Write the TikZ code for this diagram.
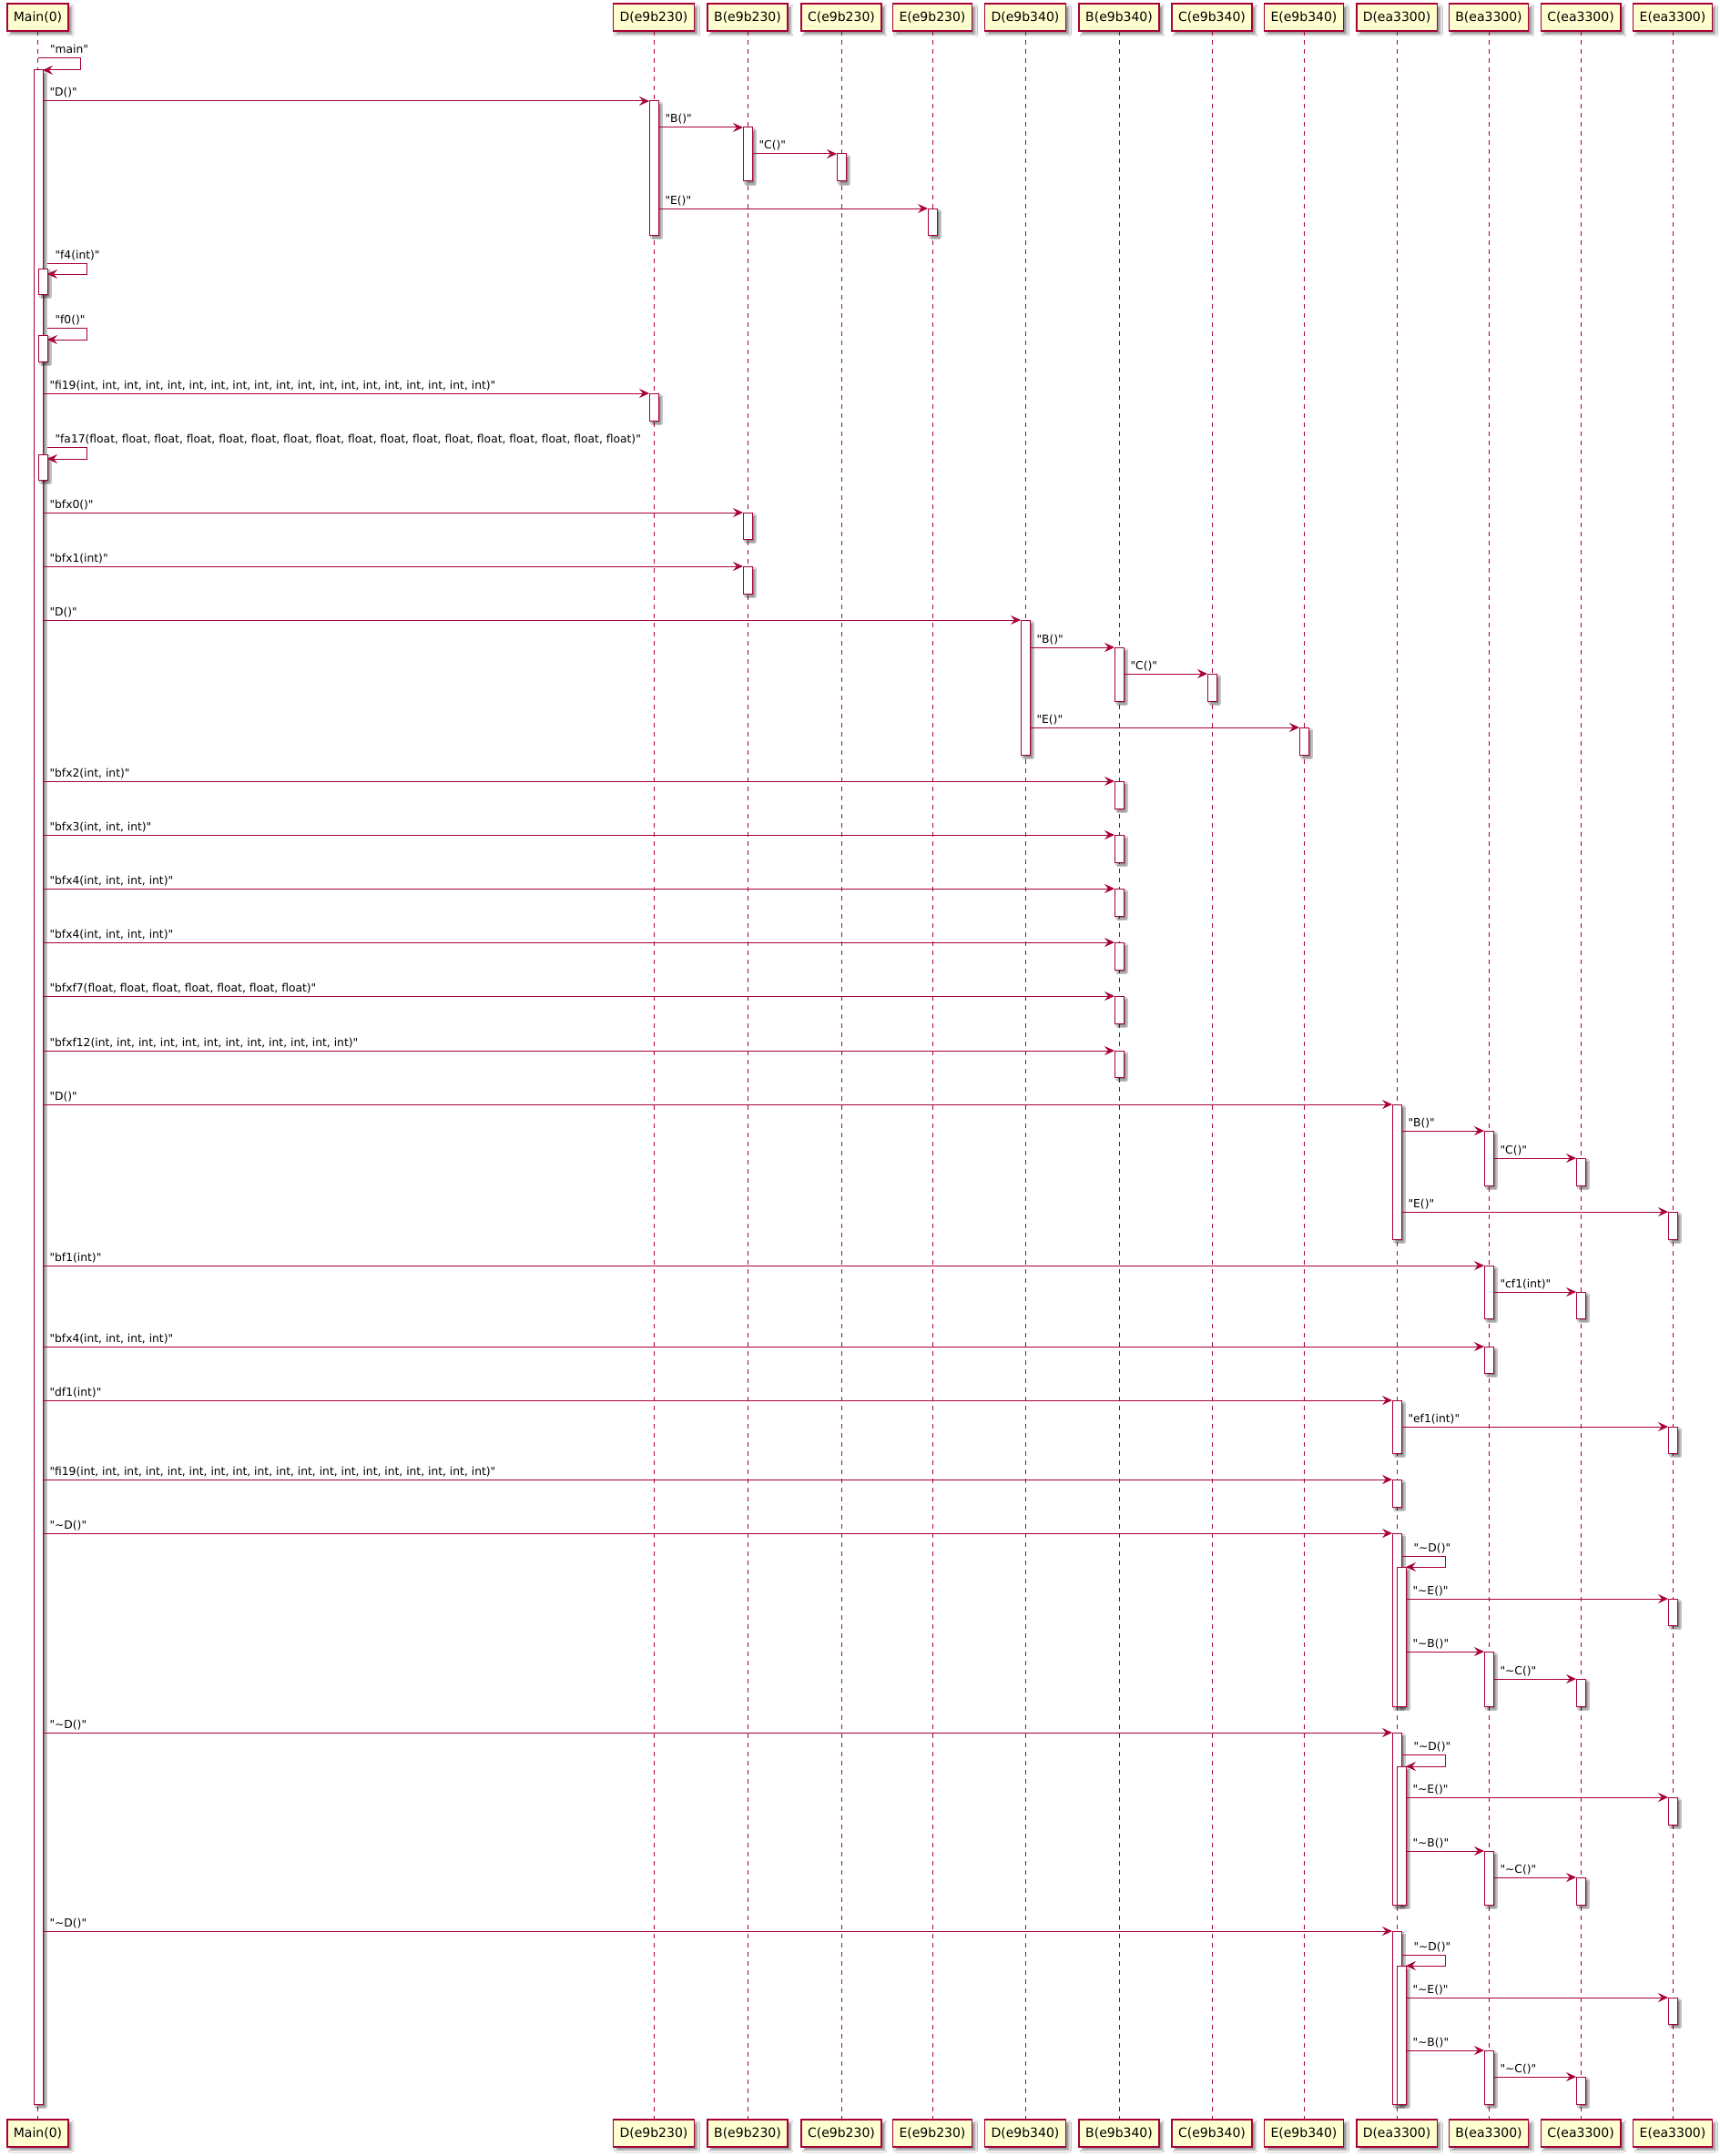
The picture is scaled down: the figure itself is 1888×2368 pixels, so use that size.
\documentclass[tikz,border=0pt]{standalone}
\usepackage{fontspec}
\setmainfont{DejaVu Sans}[Ligatures=TeXOff]
\usetikzlibrary{arrows.meta,shadows.blur}
\definecolor{umlred}{HTML}{A80036}
\definecolor{umlfill}{HTML}{FEFECE}
\newcommand\swung{\textasciitilde}
\tikzset{
  partbox/.style={draw=umlred, line width=1.5pt, fill=umlfill, minimum height=30pt,
    inner xsep=7pt, inner ysep=0pt, outer sep=0pt, font=\fontsize{14}{16}\selectfont,
    blur shadow={shadow xshift=3.5pt, shadow yshift=-3.5pt, shadow blur radius=2.5pt,
      shadow blur steps=6, shadow opacity=45}},
  lifeline/.style={draw=umlred, line width=1pt, dash pattern=on 5pt off 5pt},
  actbar/.style={draw=umlred, line width=1pt, fill=white, minimum width=10pt,
    inner sep=0pt, outer sep=0pt,
    blur shadow={shadow xshift=3pt, shadow yshift=-3pt, shadow blur radius=1.5pt,
      shadow blur steps=4, shadow opacity=50}},
  msg/.style={draw=umlred, line width=1pt, -{Stealth[length=11pt,width=10pt,inset=4pt]}},
  lbl/.style={anchor=base west, font=\fontsize{12.3}{14}\selectfont, text=black, inner sep=0pt},
}
% activation bar: name, x of centre, top, bottom
\newcommand\activ[4]{\node[actbar, minimum height={(#4-#3)*1pt}] (#1) at (#2,{(#3+#4)/2}) {};}
% message between two activation bars: from, to, y, label
\newcommand\call[4]{\draw[msg] (#1.east |- 0,#3) -- node[lbl, pos=0, xshift=7pt, yshift=5pt] {#4} (#2.west |- 0,#3);}
% message to itself: start point, out y, target bar, back y, label, label shift, loop width
\newcommand\selfcall[7]{\draw[msg] (#1 |- 0,#2) -- node[lbl, pos=0, xshift=#6, yshift=5pt] {#5} ++(#7,0) |- (#3.east |- 0,#4);}

\begin{document}
\begin{tikzpicture}[x=1pt, y=-1pt]
\useasboundingbox (0,0) rectangle (1888,2368);
\fill[white] (0,0) rectangle (1888,2368);

% participants and lifelines
\foreach \n/\x/\t in {M/41.5/Main(0), Da/718/D(e9b230), Ba/821/B(e9b230), Ca/924/C(e9b230),
  Ea/1024/E(e9b230), Db/1126/D(e9b340), Bb/1229/B(e9b340), Cb/1331/C(e9b340),
  Eb/1432/E(e9b340), Dc/1534/D(ea3300), Bc/1635/B(ea3300), Cc/1736/C(ea3300),
  Ec/1837/E(ea3300)}{
  \node[partbox] (p\n) at (\x,19) {\t};
  \node[partbox] (q\n) at (\x,2343) {\t};
  \draw[lifeline] (p\n.south) -- (q\n.north);
}

% activation bars
\activ{aM}{42}{77}{2311}
\activ{aDa1}{718}{111}{258}
\activ{aBa1}{821}{140}{199}
\activ{aCa1}{924}{169}{199}
\activ{aEa1}{1024}{229}{258}
\activ{aM2}{47}{295}{323}
\activ{aM3}{47}{368}{397}
\activ{aDa2}{718}{432}{462}
\activ{aM4}{47}{499}{527}
\activ{aBa2}{821}{563}{592}
\activ{aBa3}{821}{622}{652}
\activ{aDb1}{1126}{681}{829}
\activ{aBb1}{1229}{711}{770}
\activ{aCb1}{1331}{740}{770}
\activ{aEb1}{1432}{799}{829}
\activ{aBb2}{1229}{858}{888}
\activ{aBb3}{1229}{917}{947}
\activ{aBb4}{1229}{976}{1006}
\activ{aBb5}{1229}{1035}{1065}
\activ{aBb6}{1229}{1094}{1124}
\activ{aBb7}{1229}{1154}{1183}
\activ{aDc1}{1534}{1213}{1361}
\activ{aBc1}{1635}{1242}{1302}
\activ{aCc1}{1736}{1272}{1302}
\activ{aEc1}{1837}{1331}{1361}
\activ{aBc2}{1635}{1390}{1448}
\activ{aCc2}{1736}{1419}{1448}
\activ{aBc3}{1635}{1479}{1508}
\activ{aDc2}{1534}{1538}{1596}
\activ{aEc2}{1837}{1567}{1596}
\activ{aDc3}{1534}{1625}{1655}
\activ{aDc4}{1534}{1684}{1874}
\activ{aDc4n}{1539}{1721}{1874}
\activ{aEc3}{1837}{1756}{1785}
\activ{aBc4}{1635}{1814}{1874}
\activ{aCc3}{1736}{1844}{1874}
\activ{aDc5}{1534}{1903}{2092}
\activ{aDc5n}{1539}{1940}{2092}
\activ{aEc4}{1837}{1974}{2004}
\activ{aBc5}{1635}{2033}{2092}
\activ{aCc4}{1736}{2062}{2092}
\activ{aDc6}{1534}{2121}{2311}
\activ{aDc6n}{1539}{2159}{2311}
\activ{aEc5}{1837}{2194}{2223}
\activ{aBc6}{1635}{2252}{2311}
\activ{aCc5}{1736}{2281}{2311}

% messages
\selfcall{pM.center}{64}{aM}{77}{"main"}{13pt}{47}
\call{aM}{aDa1}{111}{"D()"}
\call{aDa1}{aBa1}{140}{"B()"}
\call{aBa1}{aCa1}{169}{"C()"}
\call{aDa1}{aEa1}{229}{"E()"}
\selfcall{aM2.east}{289}{aM2}{301}{"f4(int)"}{8pt}{43}
\selfcall{aM3.east}{360}{aM3}{373}{"f0()"}{8pt}{43}
\call{aM}{aDa2}{432}{"fi19(int, int, int, int, int, int, int, int, int, int, int, int, int, int, int, int, int, int, int)"}
\selfcall{aM4.east}{491}{aM4}{504}{"fa17(float, float, float, float, float, float, float, float, float, float, float, float, float, float, float, float, float)"}{8pt}{43}
\call{aM}{aBa2}{563}{"bfx0()"}
\call{aM}{aBa3}{622}{"bfx1(int)"}
\call{aM}{aDb1}{681}{"D()"}
\call{aDb1}{aBb1}{711}{"B()"}
\call{aBb1}{aCb1}{740}{"C()"}
\call{aDb1}{aEb1}{799}{"E()"}
\call{aM}{aBb2}{858}{"bfx2(int, int)"}
\call{aM}{aBb3}{917}{"bfx3(int, int, int)"}
\call{aM}{aBb4}{976}{"bfx4(int, int, int, int)"}
\call{aM}{aBb5}{1035}{"bfx4(int, int, int, int)"}
\call{aM}{aBb6}{1094}{"bfxf7(float, float, float, float, float, float, float)"}
\call{aM}{aBb7}{1154}{"bfxf12(int, int, int, int, int, int, int, int, int, int, int, int)"}
\call{aM}{aDc1}{1213}{"D()"}
\call{aDc1}{aBc1}{1242}{"B()"}
\call{aBc1}{aCc1}{1272}{"C()"}
\call{aDc1}{aEc1}{1331}{"E()"}
\call{aM}{aBc2}{1390}{"bf1(int)"}
\call{aBc2}{aCc2}{1419}{"cf1(int)"}
\call{aM}{aBc3}{1479}{"bfx4(int, int, int, int)"}
\call{aM}{aDc2}{1538}{"df1(int)"}
\call{aDc2}{aEc2}{1567}{"ef1(int)"}
\call{aM}{aDc3}{1625}{"fi19(int, int, int, int, int, int, int, int, int, int, int, int, int, int, int, int, int, int, int)"}
\call{aM}{aDc4}{1684}{"\swung D()"}
\selfcall{aDc4.east}{1709}{aDc4n}{1721}{"\swung D()"}{13pt}{48}
\call{aDc4n}{aEc3}{1756}{"\swung E()"}
\call{aDc4n}{aBc4}{1814}{"\swung B()"}
\call{aBc4}{aCc3}{1844}{"\swung C()"}
\call{aM}{aDc5}{1903}{"\swung D()"}
\selfcall{aDc5.east}{1927}{aDc5n}{1940}{"\swung D()"}{13pt}{48}
\call{aDc5n}{aEc4}{1974}{"\swung E()"}
\call{aDc5n}{aBc5}{2033}{"\swung B()"}
\call{aBc5}{aCc4}{2062}{"\swung C()"}
\call{aM}{aDc6}{2121}{"\swung D()"}
\selfcall{aDc6.east}{2147}{aDc6n}{2159}{"\swung D()"}{13pt}{48}
\call{aDc6n}{aEc5}{2194}{"\swung E()"}
\call{aDc6n}{aBc6}{2252}{"\swung B()"}
\call{aBc6}{aCc5}{2281}{"\swung C()"}
\end{tikzpicture}
\end{document}
